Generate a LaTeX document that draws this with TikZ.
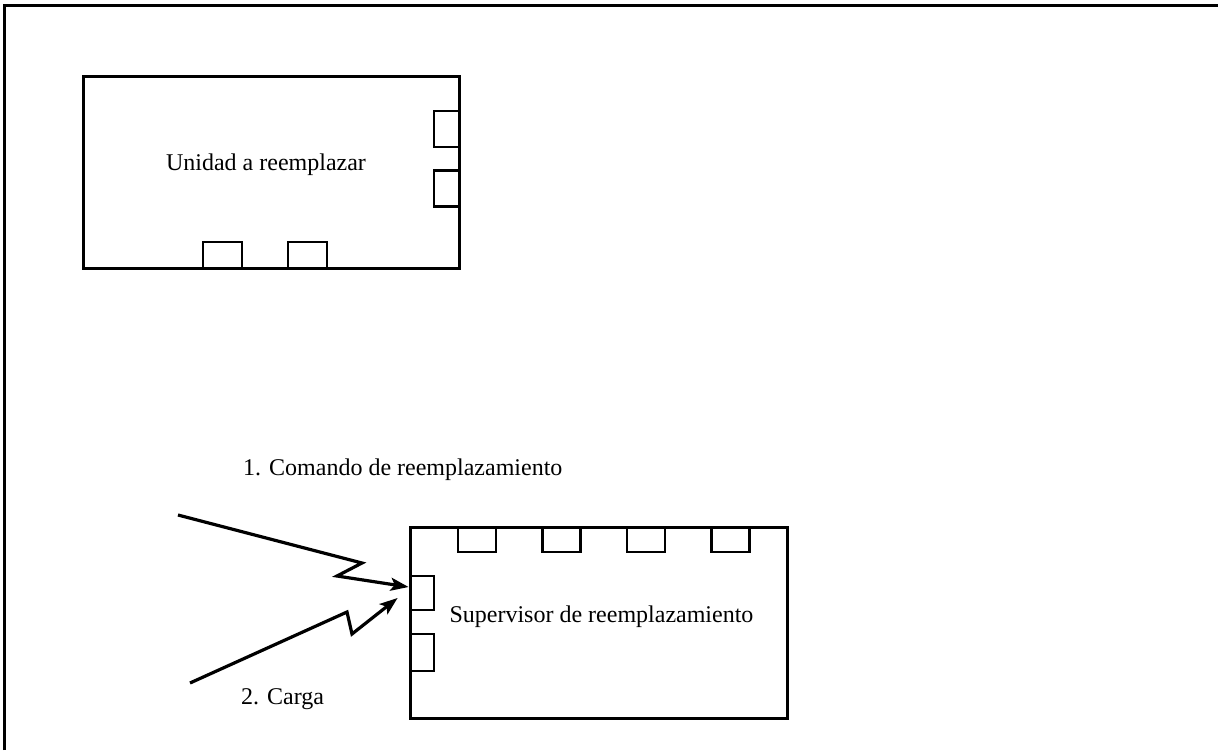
\documentclass[tikz,border=0pt]{standalone}
\usepackage{fontspec}
\setmainfont{Liberation Serif}
\usepackage{tikz}
\usetikzlibrary{positioning, arrows.meta}

\begin{document}
\begin{tikzpicture}[x=1pt, y=-1pt, font=\fontsize{24}{29}\selectfont,
  unitbox/.style={draw, line width=3pt, inner sep=0pt},
  hport/.style={draw, line width=2.8pt, inner sep=0pt, minimum width=38pt, minimum height=25pt},
  vport/.style={draw, line width=2.8pt, inner sep=0pt, minimum width=25pt, minimum height=36pt},
  sig/.style={line width=3.2pt, -{Stealth[length=18pt, width=13pt, inset=4pt]}}]
  \useasboundingbox (0,0) rectangle (1218,750);
  \draw[line width=3pt] (4,750) -- (4,5) -- (1218,5);

  % unit to be replaced
  \node[unitbox, minimum width=376pt, minimum height=192pt] (unit) at (271,172) {};
  \node (unitlbl) at (266,165) {Unidad a reemplazar};
  \node[vport] (ur1) at (446.5,129) {};
  \node[vport] (ur2) at (446.5,188.5) {};
  \node[hport, minimum width=39pt, minimum height=26pt] (ub1) at (222.5,255) {};
  \node[hport, minimum width=39pt, minimum height=26pt] (ub2) at (307.5,255) {};

  % supervisor
  \node[unitbox, minimum width=377pt, minimum height=191pt] (sup) at (598.5,622.5) {};
  \node (suplbl) at (601.5,617) {Supervisor de reemplazamiento};
  \foreach \x/\n in {477/1, 561.5/2, 646/3, 730.5/4}
    \node[hport] (st\n) at (\x,539.5) {};
  \node[vport, minimum width=24pt, minimum height=34pt] (sl1) at (422,593) {};
  \node[vport, minimum width=24pt, minimum height=37pt] (sl2) at (422,652.5) {};

  % incoming signals
  \coordinate (cmdsrc) at (178,515);
  \coordinate (loadsrc) at (190,683);
  \draw[sig] (cmdsrc) -- (362,563) -- (337,576) -- ([yshift=6pt]sl1.west);
  \draw[sig] (loadsrc) -- (347,612) -- (352,634) -- ([xshift=-11pt, yshift=-5pt]sl1.west);
  \node[anchor=west, inner sep=0pt] (cmdlbl) at (243,470) {1. Comando de reemplazamiento};
  \node[anchor=west, inner sep=0pt] (loadlbl) at (241,699) {2. Carga};
\end{tikzpicture}
\end{document}
